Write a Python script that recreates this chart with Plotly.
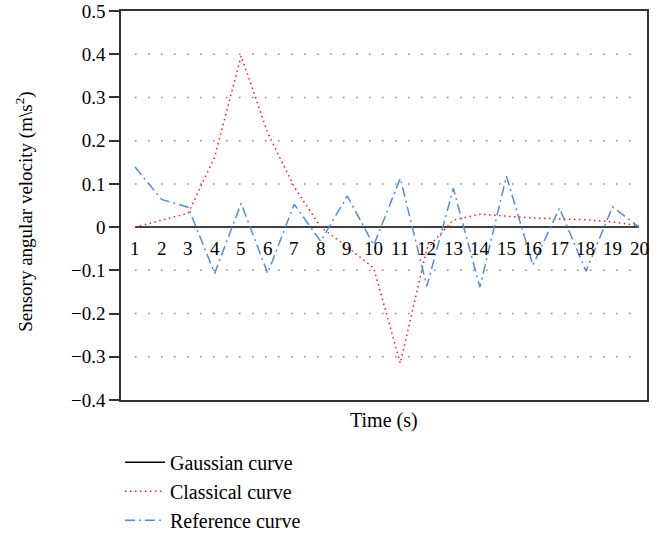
import plotly.graph_objects as go

time = list(range(1, 21))
gaussian = [0.0] * 20
classical = [0.0, 0.016, 0.032, 0.162, 0.396, 0.218, 0.093, 0.0, -0.046, -0.095,
             -0.315, -0.05, 0.016, 0.03, 0.025, 0.021, 0.019, 0.017, 0.012, 0.003]
reference = [0.139, 0.064, 0.046, -0.107, 0.055, -0.107, 0.053, -0.033, 0.072, -0.042,
             0.113, -0.137, 0.09, -0.139, 0.118, -0.088, 0.044, -0.102, 0.047, 0.0]
y_ticks = [-0.4, -0.3, -0.2, -0.1, 0, 0.1, 0.2, 0.3, 0.4, 0.5]
y_tick_text = ["\u22120.4", "\u22120.3", "\u22120.2", "\u22120.1", "0", "0.1", "0.2", "0.3", "0.4", "0.5"]
grid_vals = [-0.3, -0.2, -0.1, 0.1, 0.2, 0.3, 0.4]

FONT = "Liberation Serif"

fig = go.Figure()
fig.add_trace(go.Scatter(x=time, y=gaussian, mode="lines", name="Gaussian curve",
                         line=dict(color="black", width=1.5)))
fig.add_trace(go.Scatter(x=time, y=classical, mode="lines", name="Classical curve",
                         line=dict(color="#e3221c", width=1.5, dash="1.5px,3.5px")))
fig.add_trace(go.Scatter(x=time, y=reference, mode="lines", name="Reference curve",
                         line=dict(color="#5b8bca", width=1.5, dash="10px,4px,2px,4px")))

shapes = []
for g in grid_vals:
    shapes.append(dict(type="line", xref="x", yref="y", x0=time[0], x1=time[-1], y0=g, y1=g,
                       line=dict(color="#888888", width=1.5, dash="1.5px,11.5px"), layer="below"))

annotations = []
for t in time:
    annotations.append(dict(x=t, y=0, xref="x", yref="y", text=str(t), showarrow=False,
                            yanchor="middle", yshift=-21, font=dict(family=FONT, size=19, color="black")))
annotations.append(dict(x=0.5, y=-0.052, xref="paper", yref="paper", text="Time (s)", showarrow=False,
                        yanchor="middle", font=dict(family=FONT, size=20, color="black")))
annotations.append(dict(x=-0.185, y=0.483, xref="paper", yref="paper",
                        text="Sensory angular velocity (m\\s<sup>2</sup>)", showarrow=False,
                        textangle=-90, xanchor="center", yanchor="middle",
                        font=dict(family=FONT, size=19, color="black")))

fig.update_layout(
    width=668, height=537,
    margin=dict(l=121, r=21, t=11, b=137, autoexpand=False),
    paper_bgcolor="white", plot_bgcolor="white",
    showlegend=True,
    legend=dict(x=-0.002, y=-0.11, xanchor="left", yanchor="top", orientation="v",
                font=dict(family=FONT, size=20, color="black"), tracegroupgap=0,
                itemwidth=40, bgcolor="rgba(0,0,0,0)"),
    shapes=shapes, annotations=annotations,
    font=dict(family=FONT, size=19, color="black"),
)
fig.update_xaxes(range=[0.47, 20.3], showticklabels=False, showgrid=False, zeroline=False,
                 showline=True, mirror=True, linecolor="#333333", linewidth=1.5, ticks="")
fig.update_yaxes(range=[-0.4, 0.5], tickvals=y_ticks, ticktext=y_tick_text, showgrid=False,
                 zeroline=False, showline=True, mirror=True, linecolor="#333333", linewidth=1.5,
                 ticks="outside", ticklen=10, tickcolor="#333333", tickwidth=1.5,
                 tickfont=dict(family=FONT, size=19, color="black"))

fig.write_html("out.html", config={"displayModeBar": False},
               post_script="document.body.style.margin='0';document.body.style.overflow='hidden';")
